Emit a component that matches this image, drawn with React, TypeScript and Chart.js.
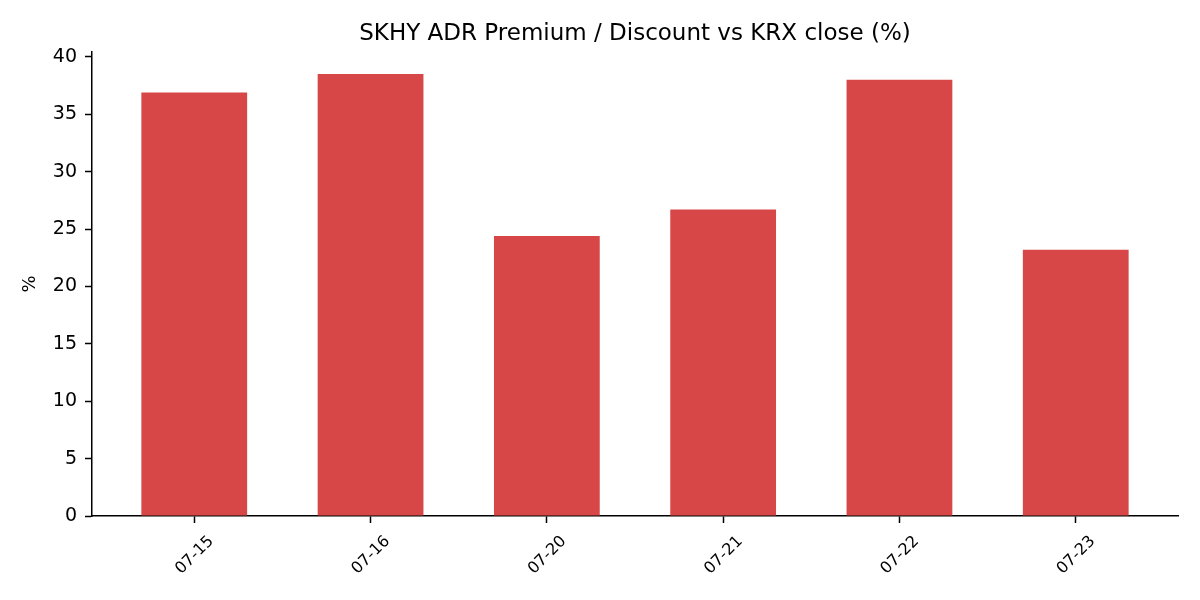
import { useEffect, useRef } from 'react';
import { Chart, registerables } from 'chart.js';

Chart.register(...registerables);

const dates = ['07-15', '07-16', '07-20', '07-21', '07-22', '07-23'];
const premiumPct = [36.9, 38.5, 24.4, 26.7, 38.0, 23.2];
const yTicks = [0, 5, 10, 15, 20, 25, 30, 35, 40];

const FONT = "'DejaVu Sans', Verdana, sans-serif";
const TITLE = 'SKHY ADR Premium / Discount vs KRX close (%)';

// title centred over the plot area, the way matplotlib places it
const axesTitle = {
  id: 'axesTitle',
  afterDraw(chart: Chart) {
    const { ctx, chartArea } = chart;
    ctx.save();
    ctx.font = `23px ${FONT}`;
    ctx.fillStyle = '#000';
    ctx.textAlign = 'center';
    ctx.textBaseline = 'alphabetic';
    ctx.fillText(TITLE, (chartArea.left + chartArea.right) / 2, 40);
    ctx.restore();
  },
};

export default function App() {
  const canvasRef = useRef<HTMLCanvasElement>(null);
  const chartRef = useRef<Chart | null>(null);

  useEffect(() => {
    if (!canvasRef.current) return;

    const ymax = Math.max(...premiumPct) * 1.05;
    const n = dates.length;
    const xpad = (n - 1 + 0.6) * 0.05 + 0.3;

    chartRef.current = new Chart(canvasRef.current, {
      type: 'bar',
      data: {
        datasets: [{
          data: premiumPct.map((v, i) => ({ x: i, y: v })),
          backgroundColor: 'rgb(215,71,71)',
          borderWidth: 0,
          categoryPercentage: 1,
          barPercentage: 0.6,
        }],
      },
      options: {
        responsive: false,
        animation: false,
        layout: { padding: { left: 0, right: 22, top: 52, bottom: 0 } },
        plugins: {
          legend: { display: false },
          tooltip: { enabled: false },
          title: { display: false },
        },
        scales: {
          x: {
            type: 'linear',
            offset: false,
            min: -xpad,
            max: n - 1 + xpad,
            afterBuildTicks: (scale: any) => {
              scale.ticks = dates.map((_, i) => ({ value: i }));
            },
            afterFit: (scale: any) => { scale.height = 84; },
            grid: {
              offset: false,
              drawOnChartArea: false,
              drawTicks: true,
              tickLength: 7,
              tickWidth: 1.5,
              tickColor: '#000',
            },
            border: { display: true, color: '#000', width: 1.5 },
            ticks: {
              autoSkip: false,
              maxRotation: 45,
              minRotation: 45,
              labelOffset: 17,
              padding: 9,
              color: '#000',
              font: { family: FONT, size: 16 },
              callback: (v: any) => dates[v as number] ?? '',
            },
          },
          y: {
            min: 0,
            max: ymax,
            afterBuildTicks: (scale: any) => {
              scale.ticks = yTicks.map((v) => ({ value: v }));
            },
            afterFit: (scale: any) => { scale.width = 92; },
            grid: {
              drawOnChartArea: false,
              drawTicks: true,
              tickLength: 7,
              tickWidth: 1.5,
              tickColor: '#000',
            },
            border: { display: true, color: '#000', width: 1.5 },
            ticks: {
              padding: 8,
              color: '#000',
              font: { family: FONT, size: 19 },
            },
            title: {
              display: true,
              text: '%',
              color: '#000',
              font: { family: FONT, size: 18 },
              padding: { top: 20, bottom: 0 },
            },
          },
        },
      },
      plugins: [axesTitle],
    });

    return () => {
      chartRef.current?.destroy();
      chartRef.current = null;
    };
  }, []);

  return (
    <div style={{ position: 'absolute', left: 0, top: 0, width: 1200, height: 600, background: '#fff' }}>
      <canvas ref={canvasRef} width={1200} height={600} />
    </div>
  );
}
